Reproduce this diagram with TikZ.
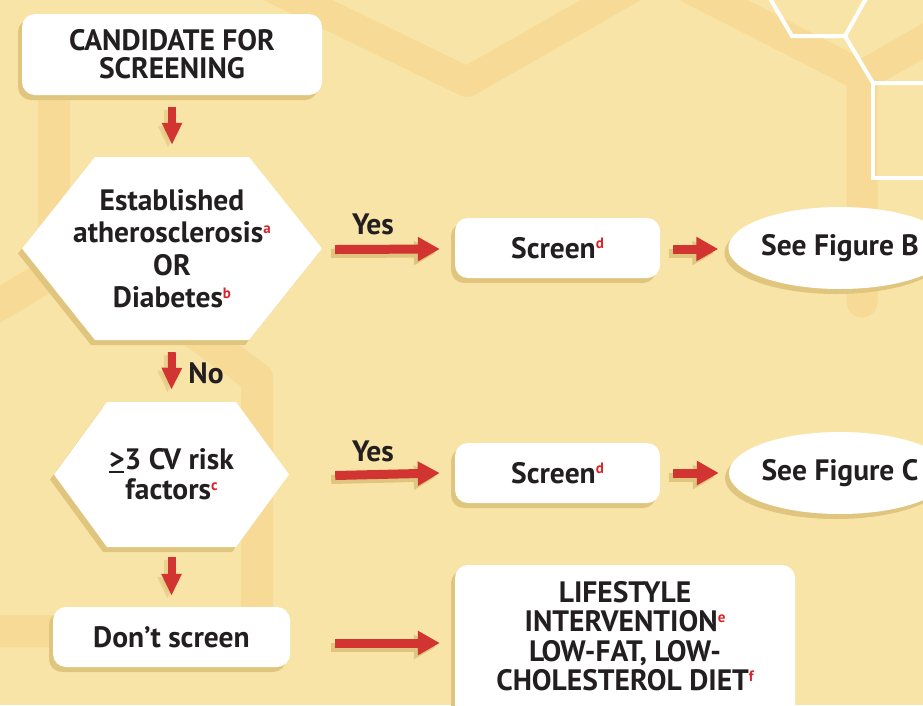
\documentclass[tikz,border=0pt]{standalone}
\usepackage{fontspec}
\setmainfont{PT Sans}
\usetikzlibrary{arrows.meta,shadows,shapes.geometric}
\definecolor{bg}{HTML}{F9E4A7}
\definecolor{band}{HTML}{F6DA95}
\definecolor{shd}{HTML}{E0C57E}
\definecolor{arr}{HTML}{D13431}
\definecolor{txt}{HTML}{231F20}
\definecolor{suprd}{HTML}{D8232A}
\newcommand\sups[1]{{\color{suprd}\fontsize{15}{15}\selectfont\raisebox{9.5pt}{#1}}}
\newcommand\geqmark{\leavevmode\rlap{\rule[-3pt]{0.5em}{2.2pt}}>}
\newcommand\harr[2]{\draw[harrow,shd,transform canvas={xshift=-4pt,yshift=-4pt}] (#1) -- (#2);
  \draw[harrow] (#1) -- (#2);}
\newcommand\varr[2]{\draw[varrow,shd,opacity=0.6,transform canvas={xshift=-4pt,yshift=-3pt}] (#1) -- (#2);
  \draw[varrow] (#1) -- (#2);}
\tikzset{
  boxsh/.style={general shadow={fill=shd, shadow xshift=-4pt, shadow yshift=-5pt}},
  rbox/.style={fill=white, rounded corners=13pt, boxsh, inner sep=0pt, align=center},
  oval/.style={ellipse, fill=white, boxsh, inner sep=0pt, minimum width=222pt, minimum height=82pt},
  harrow/.style={arr, line width=9pt, -{Triangle[width=23pt,length=22pt]}},
  varrow/.style={arr, line width=8pt, -{Triangle[width=19pt,length=22pt]}},
  lbl/.style={inner sep=0pt},
  bandline/.style={band, line width=32pt, line join=round, line cap=round},
}
\begin{document}
\begin{tikzpicture}[x=1pt,y=-1pt, font=\fontsize{29.5}{30}\selectfont\bfseries, text=txt]
\useasboundingbox (0,0) rectangle (923,705);
\clip (0,0) rectangle (923,705);
\fill[bg] (0,0) rectangle (923,705);
% background bands
\draw[bandline] (54,40) -- (54,272) -- (-40,328);
\draw[bandline] (150,300) -- (257,378) -- (257,631) -- (-40,631);
\draw[bandline, line width=30pt] (240,-28) -- (467,82) -- (660,-28);
\draw[bandline, line width=31pt] (690,-12) -- (862,76) -- (862,302);
\draw[bandline, line width=31pt] (862,76) -- (960,20);
% white outline hexagons
\draw[white, line width=4pt, line join=miter] (768,-5) -- (792,36) -- (845,36) -- (868,-5);
\draw[white, line width=4pt, line join=miter] (845,36) -- (873,83) -- (930,83);
\draw[white, line width=4pt, line join=miter] (873,83) -- (873,178) -- (930,178);

% hexagon shapes
\fill[shd, shift={(-4,5)}] (22,248.5) -- (95,157) -- (249,157) -- (322,248.5) -- (249,340) -- (95,340) -- cycle;
\fill[white] (22,248.5) -- (95,157) -- (249,157) -- (322,248.5) -- (249,340) -- (95,340) -- cycle;
\fill[shd, shift={(-4,5)}] (54,474.5) -- (107,402) -- (236,402) -- (289,474.5) -- (236,547) -- (107,547) -- cycle;
\fill[white] (54,474.5) -- (107,402) -- (236,402) -- (289,474.5) -- (236,547) -- (107,547) -- cycle;

% nodes
\node[rbox, minimum width=300pt, minimum height=81pt, font=\fontsize{29.5}{28}\selectfont\bfseries] (cand) at (172,54.5) {CANDIDATE FOR\\SCREENING};
\node[minimum width=300pt, minimum height=183pt, inner sep=0pt, align=center, font=\fontsize{29.5}{32.5}\selectfont\bfseries] (hex1) at (172,248.5) {Established\\atherosclerosis\sups{a}\\OR\\Diabetes\sups{b}};
\node[rbox, minimum width=205pt, minimum height=60pt] (scr1) at (557.5,248) {Screen\sups{d}};
\node[oval] (figB) at (840,248) {See Figure B\hspace{12pt}};
\node[minimum width=235pt, minimum height=145pt, inner sep=0pt, align=center, font=\fontsize{29.5}{30}\selectfont\bfseries] (hex2) at (171.5,474.5) {\geqmark3 CV risk\\factors\sups{c}};
\node[rbox, minimum width=205pt, minimum height=60pt] (scr2) at (557.5,473) {Screen\sups{d}};
\node[oval] (figC) at (840,473) {See Figure C\hspace{12pt}};
\node[rbox, minimum width=237pt, minimum height=60pt] (dont) at (171.5,637) {Don’t screen};
\node[rbox, minimum width=340pt, minimum height=160pt] (life) at (625,645) {};
\node[align=center, inner sep=0pt, font=\fontsize{29.5}{29.5}\selectfont\bfseries] (lifetxt) at (625,636) {LIFESTYLE\\INTERVENTION\sups{e}\\LOW-FAT, LOW-\\CHOLESTEROL DIET\sups{f}};

% labels
\node[lbl] (yes1) at (373,224) {Yes};
\node[lbl] (yes2) at (373,451) {Yes};
\node[lbl] (no) at (206,373) {No};

% connectors
\varr{[yshift=-12pt]cand.south}{[yshift=12pt]hex1.north}
\varr{[yshift=-12pt]hex1.south}{[yshift=12pt]hex2.north}
\varr{[yshift=-10pt]hex2.south}{[yshift=11pt]dont.north}
\harr{[xshift=13pt,yshift=-1pt]hex1.east}{[xshift=-15pt,yshift=-1pt]scr1.west}
\harr{[xshift=13pt,yshift=-1pt]scr1.east}{[xshift=-10pt,yshift=-1pt]figB.west}
\harr{[xshift=46pt,yshift=-1pt]hex2.east}{[xshift=-15pt,yshift=0pt]scr2.west}
\harr{[xshift=13pt,yshift=0pt]scr2.east}{[xshift=-10pt,yshift=0pt]figC.west}
\harr{[xshift=45pt,yshift=-6pt]dont.east}{[xshift=-15pt,yshift=-6pt]dont.east -| life.west}
\end{tikzpicture}
\end{document}
